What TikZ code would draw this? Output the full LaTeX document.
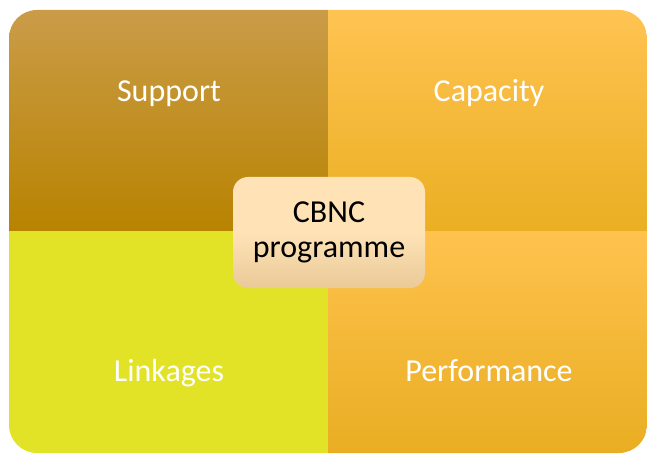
\documentclass[tikz,border=0pt]{standalone}
\usepackage{fontspec}
\setmainfont{Carlito}
\usetikzlibrary{positioning}

\definecolor{supporttop}{HTML}{CA9C48}
\definecolor{supportmid}{HTML}{C48C02}
\definecolor{supportbot}{HTML}{B88300}
\definecolor{capacitytop}{HTML}{FFC352}
\definecolor{capacitymid}{HTML}{FFBF33}
\definecolor{capacitybot}{HTML}{EAAF22}
\definecolor{linkfill}{HTML}{E2E227}
\definecolor{perftop}{HTML}{FFC24E}
\definecolor{perfmid}{HTML}{FBBB2E}
\definecolor{perfbot}{HTML}{E9AE22}
\definecolor{hubtop}{HTML}{FFE3B7}
\definecolor{hubbot}{HTML}{E9CA98}

\begin{document}
\begin{tikzpicture}[x=1pt, y=-1pt,
    quad/.style={rectangle, inner sep=0pt, outer sep=0pt, minimum width=319pt, minimum height=221.5pt},
    tag/.style={text=white, anchor=base, font=\fontsize{32}{34}\selectfont},
    hub/.style={rectangle, rounded corners=15pt, minimum width=192pt, minimum height=111pt, align=center,
        font=\fontsize{32}{35}\selectfont, top color=hubtop, bottom color=hubbot, middle color=hubtop}]
    \useasboundingbox (0,0) rectangle (647,454);

    \begin{scope}
        \clip[rounded corners=28pt] (9,10) rectangle (647,453);
        \node[quad, anchor=north west, top color=supporttop, middle color=supportmid, bottom color=supportbot] (1) at (9,10) {};
        \node[quad, right=0pt of 1, top color=capacitytop, middle color=capacitymid, bottom color=capacitybot] (2) {};
        \node[quad, below=0pt of 1, fill=linkfill] (3) {};
        \node[quad, below=0pt of 2, top color=perftop, middle color=perfmid, bottom color=perfbot] (4) {};
    \end{scope}

    \node[tag] (support) at (169,102) {Support};
    \node[tag] (capacity) at (489,102) {Capacity};
    \node[tag] (linkages) at (169,381) {Linkages};
    \node[tag] (performance) at (489,381) {Performance};

    \node[hub] (cbnc) at (329,232.5) {CBNC\\programme};
\end{tikzpicture}
\end{document}
